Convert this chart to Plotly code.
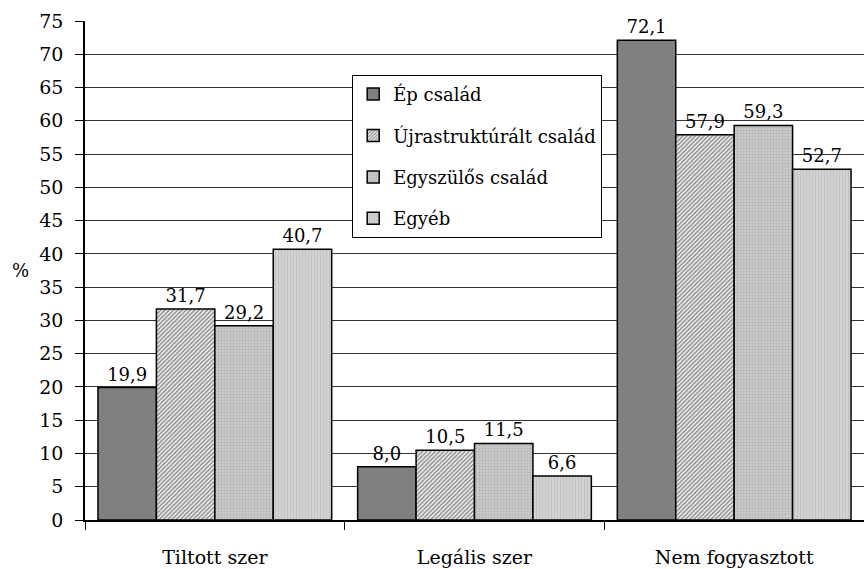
import plotly.graph_objects as go

categories = ["Tiltott szer", "Legális szer", "Nem fogyasztott"]
ep = [19.9, 8.0, 72.1]
ujra = [31.7, 10.5, 57.9]
egyszulos = [29.2, 11.5, 59.3]
egyeb = [40.7, 6.6, 52.7]

SERIF = "DejaVu Serif"

series = [
    ("Ép család", ep, dict(shape="", bgcolor="#808080", fgcolor="#808080")),
    ("Újrastruktúrált család", ujra, dict(shape="/", bgcolor="#f4f4f4", fgcolor="#262626", size=3, solidity=0.5)),
    ("Egyszülős család", egyszulos, dict(shape=".", bgcolor="#d0d0d0", fgcolor="#9c9c9c", size=3, solidity=0.5)),
    ("Egyéb", egyeb, dict(shape="|", bgcolor="#d4d4d4", fgcolor="#b0b0b0", size=3, solidity=0.4)),
]

fig = go.Figure()
for i, (name, vals, pat) in enumerate(series):
    fig.add_trace(go.Bar(
        x=categories, y=vals, name=name, legendgroup="g%d" % i,
        marker=dict(color=pat["bgcolor"], line=dict(color="black", width=1.5), pattern=pat),
        textposition="outside", texttemplate="%{y:.1f}", cliponaxis=False,
        textfont=dict(family=SERIF, size=18, color="black"),
    ))

fig.update_layout(
    width=864, height=569,
    margin=dict(l=85, r=0, t=21, b=49, autoexpand=False),
    paper_bgcolor="white", plot_bgcolor="white",
    separators=", ",
    barmode="group", bargap=0.1, bargroupgap=0,
    font=dict(family=SERIF, size=17, color="black"),
    legend=dict(
        x=0.343, y=0.892, xanchor="left", yanchor="top",
        bordercolor="black", borderwidth=1, bgcolor="white",
        font=dict(family=SERIF, size=18), tracegroupgap=15,
    ),
    annotations=[dict(text="%", x=-0.0834, y=0.5, xref="paper", yref="paper",
                      xanchor="center", yanchor="middle", showarrow=False,
                      font=dict(family=SERIF, size=18))],
)
fig.update_yaxes(
    range=[0, 75], dtick=5, showgrid=True, gridcolor="#333333", gridwidth=1,
    showline=True, linecolor="black", linewidth=1.5, automargin=False,
    ticks="outside", ticklen=8, tickcolor="black", zeroline=False,
    ticklabelstandoff=8, tickfont=dict(family=SERIF, size=19),
)
fig.update_xaxes(
    showline=True, linecolor="black", linewidth=1.5, automargin=False,
    ticks="outside", tickson="boundaries", ticklen=8, tickcolor="black",
    ticklabelstandoff=19, tickfont=dict(family=SERIF, size=19),
)

fig.write_html("out.html", config={"displayModeBar": False},
               post_script="document.body.style.margin='0';")
